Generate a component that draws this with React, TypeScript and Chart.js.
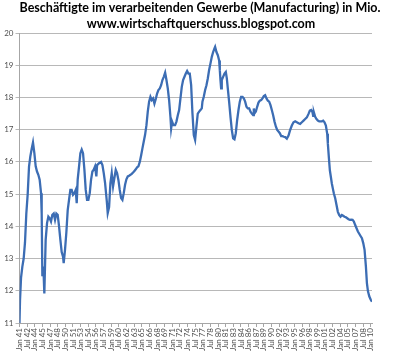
import { useEffect, useRef } from 'react';
import { Chart, registerables } from 'chart.js';
Chart.register(...registerables);

const titleLines = [
  'Beschäftigte im verarbeitenden Gewerbe (Manufacturing) in Mio.',
  'www.wirtschaftquerschuss.blogspot.com',
];

// time (fractional year) of each read point
const years = [
  1941.0, 1941.1, 1941.3, 1941.56, 1941.82, 1942.08, 1942.34, 1942.61, 1942.87, 1943.13,
  1943.39, 1943.65, 1943.92, 1944.18, 1944.44, 1944.7, 1944.96, 1945.23, 1945.36, 1945.49,
  1945.69, 1945.88, 1946.14, 1946.41, 1946.67, 1946.93, 1947.19, 1947.45, 1947.72, 1947.98,
  1948.24, 1948.5, 1948.77, 1949.03, 1949.29, 1949.55, 1949.68, 1949.94, 1950.2, 1950.47,
  1950.73, 1950.99, 1951.25, 1951.52, 1951.78, 1952.04, 1952.24, 1952.43, 1952.7, 1952.96,
  1953.22, 1953.48, 1953.75, 1954.01, 1954.27, 1954.53, 1954.8, 1955.06, 1955.32, 1955.58,
  1955.84, 1956.1, 1956.24, 1956.63, 1957.02, 1957.29, 1957.55, 1957.81, 1958.14, 1958.33,
  1958.6, 1958.86, 1959.12, 1959.38, 1959.64, 1959.91, 1960.17, 1960.43, 1960.69, 1960.96,
  1961.22, 1961.48, 1961.74, 1962.0, 1962.27, 1962.53, 1963.05, 1963.31, 1963.58, 1963.84,
  1964.1, 1964.36, 1964.63, 1964.89, 1965.15, 1965.41, 1965.67, 1965.94, 1966.2, 1966.46,
  1966.72, 1966.98, 1967.25, 1967.51, 1967.77, 1968.03, 1968.29, 1968.56, 1968.82, 1969.08,
  1969.34, 1969.61, 1969.87, 1970.13, 1970.39, 1970.65, 1970.79, 1970.98, 1971.24, 1971.57,
  1971.83, 1972.1, 1972.36, 1972.62, 1972.88, 1973.14, 1973.41, 1973.67, 1973.93, 1974.19,
  1974.45, 1974.72, 1974.98, 1975.24, 1975.5, 1975.76, 1976.02, 1976.29, 1976.55, 1976.81,
  1976.94, 1977.2, 1977.47, 1977.73, 1977.99, 1978.25, 1978.51, 1978.78, 1979.04, 1979.3,
  1979.43, 1979.69, 1979.96, 1980.22, 1980.35, 1980.48, 1980.61, 1980.74, 1981.0, 1981.27,
  1981.53, 1981.73, 1981.92, 1982.18, 1982.45, 1982.71, 1982.97, 1983.23, 1983.49, 1983.76,
  1984.02, 1984.28, 1984.54, 1984.81, 1985.07, 1985.33, 1985.59, 1985.85, 1986.12, 1986.38,
  1986.64, 1986.9, 1987.03, 1987.16, 1987.43, 1987.69, 1987.95, 1988.21, 1988.48, 1988.74,
  1989.0, 1989.26, 1989.52, 1989.79, 1990.05, 1990.31, 1990.57, 1990.83, 1991.1, 1991.36,
  1991.62, 1991.88, 1992.14, 1992.41, 1992.67, 1992.93, 1993.19, 1993.52, 1993.85, 1994.17,
  1994.5, 1994.83, 1995.16, 1995.81, 1996.14, 1996.47, 1996.8, 1997.12, 1997.45, 1997.78,
  1998.04, 1998.3, 1998.56, 1998.69, 1998.83, 1999.09, 1999.35, 1999.61, 1999.87, 2000.4,
  2000.66, 2000.92, 2001.19, 2001.45, 2001.58, 2001.77, 2001.97, 2002.17, 2002.36, 2002.56,
  2002.76, 2003.02, 2003.28, 2003.54, 2003.81, 2004.07, 2004.33, 2004.59, 2004.85, 2005.12,
  2005.38, 2005.64, 2005.9, 2006.17, 2006.43, 2006.69, 2006.95, 2007.21, 2007.48, 2007.74,
  2008.0, 2008.27, 2008.53, 2008.79, 2009.05, 2009.25, 2009.45, 2009.71, 2009.98, 2010.24,
];

// employees in manufacturing, millions
const employment = [
  11.0, 11.7, 12.4, 12.75, 13.0, 13.5, 14.4, 15.0, 15.85, 16.17,
  16.4, 16.6, 16.27, 15.86, 15.7, 15.6, 15.45, 15.03, 14.4, 12.45,
  12.75, 11.92, 13.58, 14.1, 14.3, 14.25, 14.15, 14.36, 14.4, 14.2,
  14.4, 14.36, 14.0, 13.58, 13.2, 13.06, 12.86, 13.27, 13.8, 14.5,
  14.82, 15.13, 15.13, 14.98, 15.03, 15.13, 14.72, 15.45, 15.86, 16.27,
  16.38, 16.27, 15.76, 15.13, 14.82, 14.82, 15.03, 15.45, 15.7, 15.76,
  15.86, 15.55, 15.9, 15.96, 16.0, 15.9, 15.65, 15.35, 14.8, 14.41,
  14.6, 15.34, 15.65, 15.24, 15.5, 15.75, 15.65, 15.44, 15.13, 14.88,
  14.82, 15.03, 15.29, 15.46, 15.55, 15.57, 15.63, 15.67, 15.72, 15.77,
  15.83, 15.86, 16.0, 16.2, 16.42, 16.63, 16.84, 17.14, 17.56, 17.87,
  18.02, 17.92, 17.97, 17.81, 17.95, 18.12, 18.23, 18.28, 18.38, 18.54,
  18.64, 18.77, 18.54, 18.28, 17.92, 17.4, 17.04, 17.25, 17.14, 17.14,
  17.25, 17.45, 17.61, 17.97, 18.33, 18.54, 18.64, 18.74, 18.82, 18.74,
  18.74, 18.38, 17.5, 16.83, 16.68, 17.1, 17.5, 17.56, 17.61, 17.66,
  17.87, 18.02, 18.23, 18.38, 18.59, 18.85, 19.05, 19.26, 19.41, 19.52,
  19.57, 19.41, 19.31, 19.15, 18.85, 18.54, 18.28, 18.54, 18.64, 18.74,
  18.79, 18.59, 18.28, 17.87, 17.4, 16.99, 16.73, 16.7, 16.89, 17.3,
  17.61, 17.87, 18.02, 18.02, 17.97, 17.87, 17.71, 17.66, 17.66, 17.56,
  17.5, 17.45, 17.66, 17.5, 17.56, 17.71, 17.84, 17.9, 17.92, 17.97,
  18.04, 18.07, 17.97, 17.9, 17.87, 17.76, 17.61, 17.45, 17.25, 17.1,
  16.99, 16.94, 16.89, 16.8, 16.8, 16.78, 16.77, 16.72, 16.82, 16.99,
  17.13, 17.23, 17.26, 17.2, 17.18, 17.23, 17.28, 17.33, 17.38, 17.49,
  17.59, 17.61, 17.54, 17.43, 17.54, 17.4, 17.33, 17.28, 17.26, 17.26,
  17.28, 17.23, 17.13, 16.87, 16.56, 16.15, 15.74, 15.53, 15.33, 15.17,
  15.02, 14.87, 14.66, 14.45, 14.35, 14.3, 14.35, 14.33, 14.3, 14.28,
  14.25, 14.22, 14.2, 14.21, 14.2, 14.15, 14.04, 13.94, 13.84, 13.77,
  13.7, 13.63, 13.48, 13.27, 12.76, 12.24, 11.99, 11.83, 11.73, 11.66,
];

// x tick labels every 18 months from Jan 41 to Jan 10
const xTickLabels = [
  'Jan 41', 'Jul 42', 'Jan 44', 'Jul 45', 'Jan 47', 'Jul 48', 'Jan 50', 'Jul 51', 'Jan 53', 'Jul 54',
  'Jan 56', 'Jul 57', 'Jan 59', 'Jul 60', 'Jan 62', 'Jul 63', 'Jan 65', 'Jul 66', 'Jan 68', 'Jul 69',
  'Jan 71', 'Jul 72', 'Jan 74', 'Jul 75', 'Jan 77', 'Jul 78', 'Jan 80', 'Jul 81', 'Jan 83', 'Jul 84',
  'Jan 86', 'Jul 87', 'Jan 89', 'Jul 90', 'Jan 92', 'Jul 93', 'Jan 95', 'Jul 96', 'Jan 98', 'Jul 99',
  'Jan 01', 'Jul 02', 'Jan 04', 'Jul 05', 'Jan 07', 'Jul 08', 'Jan 10',
];
const xTickValues = [
  1941, 1942.5, 1944, 1945.5, 1947, 1948.5, 1950, 1951.5, 1953, 1954.5,
  1956, 1957.5, 1959, 1960.5, 1962, 1963.5, 1965, 1966.5, 1968, 1969.5,
  1971, 1972.5, 1974, 1975.5, 1977, 1978.5, 1980, 1981.5, 1983, 1984.5,
  1986, 1987.5, 1989, 1990.5, 1992, 1993.5, 1995, 1996.5, 1998, 1999.5,
  2001, 2002.5, 2004, 2005.5, 2007, 2008.5, 2010,
];
const yMin = 11;
const yMax = 20;

const titlePlugin = {
  id: 'twoLineTitle',
  afterDraw(chart: any) {
    const ctx = chart.ctx;
    ctx.save();
    ctx.fillStyle = '#000000';
    ctx.textAlign = 'center';
    ctx.textBaseline = 'alphabetic';
    ctx.font = 'bold 12.5px Lato, "Liberation Sans", Arial, sans-serif';
    ctx.fillText(titleLines[0], 200, 12, 384);
    ctx.font = 'bold 12.5px Lato, "Liberation Sans", Arial, sans-serif';
    ctx.fillText(titleLines[1], 201, 28, 248);
    ctx.restore();
  },
};

export default function App() {
  const ref = useRef<HTMLCanvasElement>(null);
  useEffect(() => {
    document.body.style.margin = '0';
    const chart = new Chart(ref.current as HTMLCanvasElement, {
      type: 'line',
      data: {
        datasets: [
          {
            data: years.map((x, i) => ({ x, y: employment[i] })),
            borderColor: '#3C6DB4',
            borderWidth: 2.3,
            pointRadius: 0,
            tension: 0,
            fill: false,
          },
        ],
      },
      options: {
        animation: false,
        responsive: false,
        maintainAspectRatio: false,
        layout: { padding: { top: 33, right: 28, left: 0, bottom: 0 } },
        plugins: {
          legend: { display: false },
          tooltip: { enabled: false },
          title: { display: false },
        },
        scales: {
          x: {
            type: 'linear',
            min: 1941,
            max: 2010.25,
            afterBuildTicks: (s: any) => {
              s.ticks = xTickValues.map((v) => ({ value: v }));
            },
            afterFit: (s: any) => {
              s.height = 34;
            },
            ticks: {
              autoSkip: false,
              minRotation: 90,
              maxRotation: 90,
              padding: 1,
              color: '#505050',
              font: { size: 8, family: 'Lato, "Liberation Sans", Arial, sans-serif' },
              callback: (_v: any, i: number) => xTickLabels[i],
            },
            grid: {
              display: true,
              drawOnChartArea: false,
              drawTicks: true,
              tickLength: 4,
              color: '#A6A6A6',
            },
            border: { display: true, color: '#A6A6A6' },
          },
          y: {
            min: yMin,
            max: yMax,
            afterFit: (s: any) => {
              s.width = 19.5;
            },
            ticks: {
              stepSize: 1,
              padding: 2,
              color: '#505050',
              font: { size: 8, family: 'Lato, "Liberation Sans", Arial, sans-serif' },
            },
            grid: { color: '#B8B8B8', tickLength: 4 },
            border: { display: true, color: '#A6A6A6' },
          },
        },
      },
      plugins: [titlePlugin],
    } as any);
    return () => chart.destroy();
  }, []);
  return <canvas ref={ref} width={400} height={357} style={{ display: 'block' }} />;
}
